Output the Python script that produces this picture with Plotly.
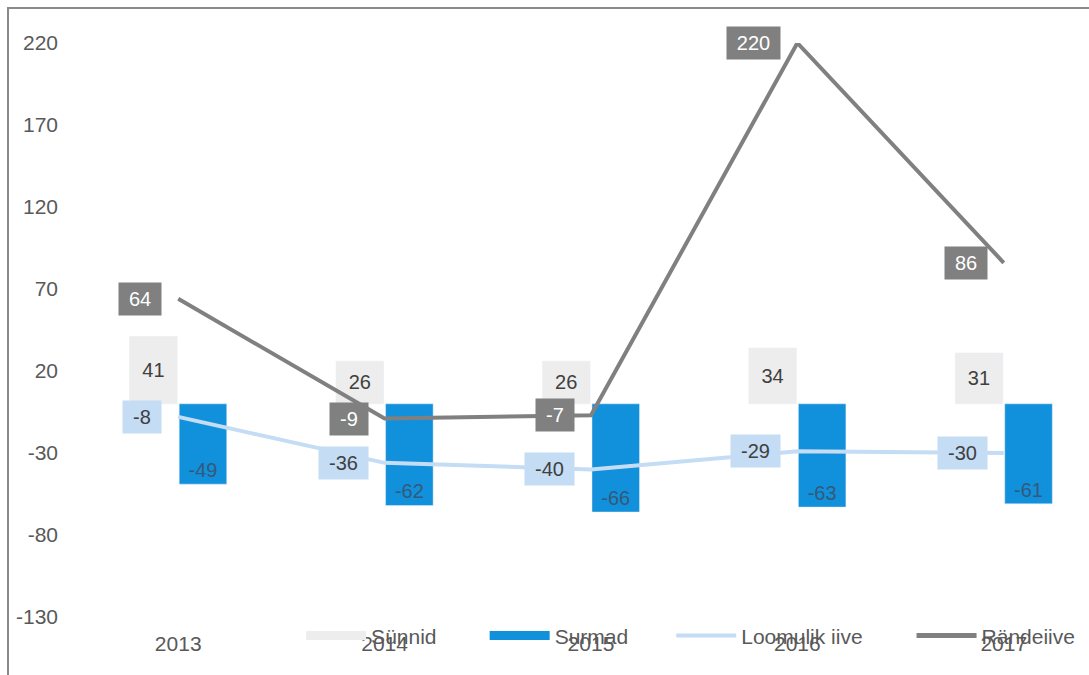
import plotly.graph_objects as go

years = ["2013", "2014", "2015", "2016", "2017"]
sunnid = [41, 26, 26, 34, 31]
surmad = [-49, -62, -66, -63, -61]
loomulik = [-8, -36, -40, -29, -30]
randeiive = [64, -9, -7, 220, 86]
y_ticks = [-130, -80, -30, 20, 70, 120, 170, 220]

FONT = "Liberation Sans, Arial, sans-serif"
C_SUN = "#ededed"
C_SUR = "#1190db"
C_LOO = "#c5dcf5"
C_RAN = "#808080"
C_TXT = "#595959"
LBL = 20


def box_w(s):
    # approximate text width (Arial metrics) plus inner padding
    w = sum(0.333 if ch == "-" else 0.556 for ch in s) * LBL
    return round(w + 12)


fig = go.Figure()

fig.add_trace(go.Bar(
    x=years, y=sunnid, name="Sünnid", marker_color=C_SUN, showlegend=False,
    text=[str(v) for v in sunnid], textposition="inside", insidetextanchor="middle",
    textfont=dict(family=FONT, size=LBL, color="#404040"), cliponaxis=False,
))
fig.add_trace(go.Bar(
    x=years, y=surmad, name="Surmad", marker_color=C_SUR, showlegend=False,
    text=[str(v) for v in surmad], textposition="inside", insidetextanchor="end",
    textfont=dict(family=FONT, size=LBL, color="#35597a"), cliponaxis=False,
))
fig.add_trace(go.Scatter(
    x=years, y=loomulik, name="Loomulik iive", mode="lines",
    line=dict(color=C_LOO, width=4), showlegend=False, cliponaxis=False,
))
fig.add_trace(go.Scatter(
    x=years, y=randeiive, name="Rändeiive", mode="lines",
    line=dict(color=C_RAN, width=4), showlegend=False, cliponaxis=False,
))

# legend entries (wide swatches like the original)
leg_specs = [
    ("Sünnid", C_SUN, 9, "legend", 0.223),
    ("Surmad", C_SUR, 9, "legend2", 0.404),
    ("Loomulik iive", C_LOO, 4, "legend3", 0.588),
    ("Rändeiive", C_RAN, 5, "legend4", 0.825),
]
for name, col, w, lg, _ in leg_specs:
    fig.add_trace(go.Scatter(
        x=[None], y=[None], mode="lines", name=name,
        line=dict(color=col, width=w), legend=lg, showlegend=True,
    ))

annotations = []
for i, v in enumerate(randeiive):
    annotations.append(dict(
        x=i, y=v, xref="x", yref="y", text=str(v), showarrow=False,
        xanchor="right", yanchor="middle", xshift=-16,
        bgcolor=C_RAN, width=box_w(str(v)), height=24, borderpad=4,
        font=dict(family=FONT, size=LBL, color="white"),
    ))
for i, v in enumerate(loomulik):
    annotations.append(dict(
        x=i, y=v, xref="x", yref="y", text=str(v), showarrow=False,
        xanchor="right", yanchor="middle", xshift=-16,
        bgcolor=C_LOO, width=box_w(str(v)), height=24, borderpad=4,
        font=dict(family=FONT, size=LBL, color="#404040"),
    ))

leg_common = dict(orientation="h", y=-0.033, yanchor="middle", xanchor="left",
                  font=dict(family=FONT, size=21, color=C_TXT),
                  bgcolor="rgba(0,0,0,0)", itemwidth=60)
layout_legs = {}
for name, col, w, lg, xp in leg_specs:
    layout_legs[lg] = dict(leg_common, x=xp)

fig.update_layout(
    width=1089, height=675,
    margin=dict(l=75, r=0, t=43, b=58),
    paper_bgcolor="white", plot_bgcolor="white",
    barmode="group", bargap=0.52, bargroupgap=0.04,
    font=dict(family=FONT, size=21, color=C_TXT),
    xaxis=dict(type="category", range=[-0.5, 4.413], showgrid=False, zeroline=False,
               showline=False, ticks="", tickfont=dict(family=FONT, size=21, color=C_TXT),
               ticklabelstandoff=12),
    yaxis=dict(range=[-130, 220], tickvals=y_ticks, ticktext=[str(v) for v in y_ticks],
               showgrid=False, zeroline=False,
               showline=False, ticks="", tickfont=dict(family=FONT, size=21, color=C_TXT),
               ticklabelstandoff=16),
    annotations=annotations,
    shapes=[dict(type="rect", xref="paper", yref="paper",
                 x0=(8 - 75) / 1014, x1=1.05, y0=-0.2, y1=(617 - 8) / 574,
                 line=dict(color="#8a8a8a", width=2), fillcolor="rgba(0,0,0,0)", layer="below")],
    **layout_legs,
)

fig.write_html("out.html")
